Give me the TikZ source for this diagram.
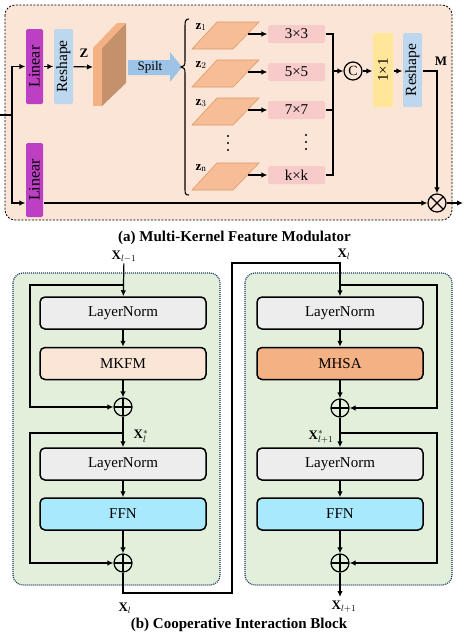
\documentclass[tikz,border=0pt]{standalone}
\usepackage{fontspec}
\usepackage{graphicx}
\setmainfont{Liberation Serif}
\usetikzlibrary{arrows.meta}

\definecolor{peachbg}{HTML}{FBE5D6}
\definecolor{linpurple}{HTML}{BC3FC4}
\definecolor{reshblue}{HTML}{BDD7EE}
\definecolor{slabfront}{HTML}{F4B183}
\definecolor{slabside}{HTML}{C5916C}
\definecolor{slabedge}{HTML}{DE9A66}
\definecolor{splitblue}{HTML}{9DC3E6}
\definecolor{kpink}{HTML}{F8CBCB}
\definecolor{convyellow}{HTML}{FFE699}
\definecolor{blockgreen}{HTML}{E2EFDA}
\definecolor{lngray}{HTML}{EDEDED}
\definecolor{ffncyan}{HTML}{A9E9FD}
\definecolor{dotblue}{HTML}{203864}

\begin{document}
\begin{tikzpicture}[
            x=1pt, y=-1pt, line width=1.2pt,
            >={Latex[length=6pt,width=5.5pt]},
            vbar/.style={rectangle, rounded corners=1.5pt, minimum width=17pt, minimum height=75pt, inner sep=0pt},
            kern/.style={rectangle, rounded corners=1.5pt, fill=kpink, minimum width=57pt, minimum height=18pt, inner sep=0pt, font=\fontsize{15}{15}\selectfont},
            blk/.style={rectangle, draw, rounded corners=5pt, line width=1.5pt, minimum width=166pt, minimum height=32pt, font=\fontsize{15}{15}\selectfont},
            lbl/.style={inner sep=0pt, font=\fontsize{13}{13}\selectfont},
            addnode/.style={circle, draw, minimum size=18pt, inner sep=0pt, path picture={\draw (path picture bounding box.north) -- (path picture bounding box.south) (path picture bounding box.west) -- (path picture bounding box.east);}},
            mulnode/.style={circle, draw, minimum size=18pt, inner sep=0pt, path picture={\draw (path picture bounding box.north west) -- (path picture bounding box.south east) (path picture bounding box.south west) -- (path picture bounding box.north east);}},
            caption/.style={inner sep=0pt, font=\fontsize{15}{15}\selectfont\bfseries}
        ]
            \useasboundingbox (0,0) rectangle (465,641);

            % (a) modulator
            \draw[fill=peachbg, rounded corners=10pt, line width=0.8pt, dash pattern=on 2pt off 1.5pt] (5,5) rectangle (452,220);

            \node(lin1) at (34.5,66.5) [vbar, fill=linpurple] {\rotatebox{90}{\fontsize{16}{16}\selectfont Linear}};
            \node(resh1) at (63.5,66.5) [vbar, fill=reshblue, minimum width=19pt] {\rotatebox{90}{\fontsize{15.5}{15.5}\selectfont Reshape}};
            \node(lin2) at (34.5,180) [vbar, fill=linpurple, minimum height=74pt] {\rotatebox{90}{\fontsize{16}{16}\selectfont Linear}};

            % slab Z
            \fill[slabside] (102,48) -- (126,23) -- (126,83) -- (102,106) -- cycle;
            \fill[slabfront] (93,48) -- (117,23) -- (126,23) -- (102,48) -- cycle;
            \fill[slabfront] (93,48) rectangle (102,106);
            \coordinate(slab) at (93,67);
            \node(zlbl) at (84,53) [lbl] {\textbf{Z}};

            % split arrow
            \fill[splitblue] (128,60) -- (170,60) -- (170,52) -- (182,67) -- (170,82) -- (170,75) -- (128,75) -- cycle;
            \node(split) at (150,67.5) [inner sep=0pt, font=\fontsize{13}{13}\selectfont] {Spilt};

            % brace
            \draw[line width=1.1pt] (189,19) .. controls (185.5,19) and (185,21) .. (185,26) -- (185,61)
                .. controls (185,65) and (184,67) .. (181,67) .. controls (184,67) and (185,69) .. (185,73)
                -- (185,189) .. controls (185,194) and (185.5,195) .. (189,195);

            % slices and kernels
            \foreach \t/\k/\s/\n in {22/k1/3{\texttimes}3/$\mathbf{z}_1$, 60/k2/5{\texttimes}5/$\mathbf{z}_2$, 98/k3/7{\texttimes}7/$\mathbf{z}_3$, 163/kn/k{\texttimes}k/$\mathbf{z}_\mathrm{n}$} {
                \draw[fill=slabfront!85!white, draw=slabedge, line width=0.6pt] (217,\t) -- (259,\t) -- (233,\t+27) -- (192,\t+27) -- cycle;
                \node at (201,\t+5) [lbl] {\n};
                \coordinate(\k src) at (248,\t+12);
                \node(\k) at (296.5,\t+12) [kern] {\s};
                \draw[->] (\k src) -- (\k);
            }
            \foreach \y in {136,143,150} {
                \fill (228,\y) circle (1.1pt);
                \fill (306,\y-1) circle (1.1pt);
            }

            \coordinate(join) at (333,71);
            \draw (k1.east) -| (join);
            \draw (kn.east) -| (join);
            \draw (k3.east) -- (k3.east -| join);
            \node(cat) at (353,71) [circle, draw, minimum size=18pt, inner sep=0pt, font=\fontsize{14}{14}\selectfont] {C};
            \draw[->] (join) -- (cat);

            \node(conv) at (383,70) [vbar, fill=convyellow, minimum width=20pt, minimum height=74pt] {\rotatebox{90}{\fontsize{15}{15}\selectfont 1{\texttimes}1}};
            \node(resh2) at (412.5,70) [vbar, fill=reshblue, minimum width=19pt, minimum height=74pt] {\rotatebox{90}{\fontsize{15.5}{15.5}\selectfont Reshape}};
            \draw[->] (cat) -- (cat -| conv.west);
            \draw[->] (conv.east |- cat) -- (resh2.west |- cat);

            \node(mul) at (437,203) [mulnode] {};
            \node(mlbl) at (441,61) [lbl] {\textbf{M}};
            \draw[->] (resh2.east |- cat) -| (mul);

            \coordinate(in) at (0,115);
            \draw (in) -- (12,115);
            \draw[->] (12,115) |- (lin1.west);
            \draw[->] (12,115) |- (lin2.west |- mul);
            \draw[->] (lin2.east |- mul) -- (mul);
            \draw[->] (lin1) -- (resh1);
            \draw[->] (resh1) -- (slab);
            \coordinate(out) at (463,203);
            \draw[->] (mul) -- (out);

            \node(capa) at (234.5,238) [caption] {(a) Multi-Kernel Feature Modulator};

            % (b) interaction block
            \draw[fill=blockgreen, draw=dotblue, rounded corners=10pt, line width=1.2pt, dash pattern=on 1pt off 1pt] (13,273) rectangle (220,585);
            \draw[fill=blockgreen, draw=dotblue, rounded corners=10pt, line width=1.2pt, dash pattern=on 1pt off 1pt] (245,273) rectangle (452,585);

            \node(xin) at (124,257) [lbl] {$\mathbf{X}_{l-1}$};
            \node(ln1) at (123,313) [blk, fill=lngray] {LayerNorm};
            \node(mkfm) at (123,363.5) [blk, fill=peachbg] {MKFM};
            \node(add1) at (123,407) [addnode] {};
            \node(ln2) at (123,464) [blk, fill=lngray] {LayerNorm};
            \node(ffn1) at (123,514) [blk, fill=ffncyan] {FFN};
            \node(add2) at (123,563) [addnode] {};
            \node(xmid) at (141,436) [lbl] {$\mathbf{X}_l^{*}$};
            \node(xout) at (125,608) [lbl] {$\mathbf{X}_l$};

            \draw[->] (xin) -- (ln1);
            \draw[->] (ln1) -- (mkfm);
            \draw[->] (mkfm) -- (add1);
            \draw[->] (add1) -- (ln2);
            \draw[->] (ln2) -- (ffn1);
            \draw[->] (ffn1) -- (add2);
            \draw[->] (123,285) -- (30,285) |- (add1);
            \draw[->] (123,433) -- (30,433) |- (add2);

            \node(xin2) at (344,254) [lbl] {$\mathbf{X}_l$};
            \node(rln1) at (340,313) [blk, fill=lngray] {LayerNorm};
            \node(mhsa) at (340,363.5) [blk, fill=slabfront] {MHSA};
            \node(radd1) at (340,408) [addnode] {};
            \node(rln2) at (340,464) [blk, fill=lngray] {LayerNorm};
            \node(ffn2) at (340,514) [blk, fill=ffncyan] {FFN};
            \node(radd2) at (340,563) [addnode] {};
            \node(xmid2) at (321,437) [lbl] {$\mathbf{X}_{l+1}^{*}$};
            \node(xout2) at (344,607) [lbl] {$\mathbf{X}_{l+1}$};

            \draw[->] (add2) -- (123,593) -- (232,593) -- (232,263) -| (rln1);
            \draw[->] (rln1) -- (mhsa);
            \draw[->] (mhsa) -- (radd1);
            \draw[->] (radd1) -- (rln2);
            \draw[->] (rln2) -- (ffn2);
            \draw[->] (ffn2) -- (radd2);
            \draw[->] (radd2) -- (340,597);
            \draw[->] (340,285) -- (437,285) |- (radd1);
            \draw[->] (340,433) -- (437,433) |- (radd2);

            \node(capb) at (239,625) [caption] {(b) Cooperative Interaction Block};
        \end{tikzpicture}
\end{document}
